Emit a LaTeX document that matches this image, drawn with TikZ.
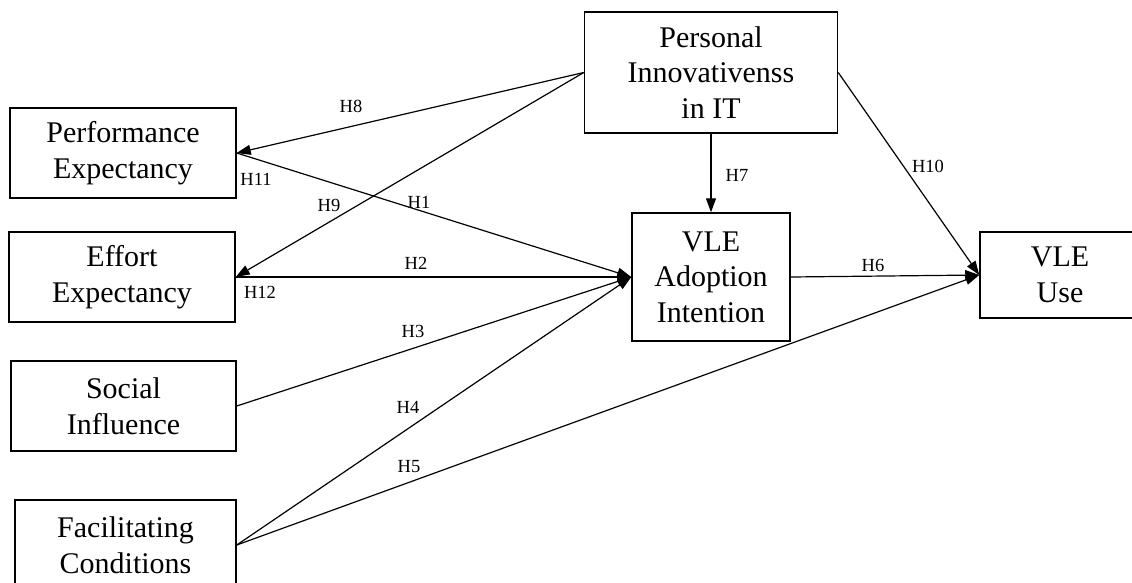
\documentclass[tikz,border=0pt]{standalone}
\usepackage{fontspec}
\setmainfont{Liberation Serif}
\usepackage{tikz}
\usetikzlibrary{arrows.meta,positioning}
\definecolor{inkBlack}{RGB}{0, 0, 0}

\begin{document}
\begin{tikzpicture}[x=1pt, y=-1pt,
    construct/.style={draw=inkBlack, line width=1.5pt, fill=white, align=center, inner sep=0pt,
        font=\fontsize{30pt}{35.5pt}\selectfont},
    hypo/.style={font=\fontsize{18.5pt}{20pt}\selectfont, inner sep=0pt},
    path/.style={draw=inkBlack, line width=1.2pt, -{Triangle[length=14pt, width=10pt]}}]
    \useasboundingbox (0,0) rectangle (1132,582);
    \clip (0,0) rectangle (1132,582);

    \node[construct, minimum width=226pt, minimum height=90pt] (perf) at (123,153) {Performance\\Expectancy};
    \node[construct, minimum width=226pt, minimum height=90pt] (effort) at (122,277) {Effort\\Expectancy};
    \node[construct, minimum width=225pt, minimum height=90pt] (social) at (123.5,406) {Social\\Influence};
    \node[construct, minimum width=221pt, minimum height=90pt] (facil) at (125.5,545) {Facilitating\\Conditions};
    \node[construct, minimum width=253pt, minimum height=121pt] (innov) at (711,72.5) {Personal\\Innovativenss\\in IT};
    \node[construct, minimum width=158pt, minimum height=128pt] (intent) at (711,277) {VLE\\Adoption\\Intention};
    \node[construct, minimum width=160pt, minimum height=86pt] (use) at (1060,275) {VLE\\Use};

    \draw[path] (innov.west) -- (perf.east);
    \draw[path] (innov.west) -- (effort.east);
    \draw[path] (perf.east) -- (intent.west);
    \draw[path] (effort.east) -- (intent.west);
    \draw[path] (social.east) -- (intent.west);
    \draw[path] (facil.east) -- (intent.west);
    \draw[path] (facil.east) -- (use.west);
    \draw[path] (intent.east) -- (use.west);
    \draw[path] (innov.south) -- (intent.north);
    \draw[path] (innov.east) -- (use.west);

    \node[hypo] (h1) at (419,202) {H1};
    \node[hypo] (h2) at (416,263) {H2};
    \node[hypo] (h3) at (413,331) {H3};
    \node[hypo] (h4) at (408,407) {H4};
    \node[hypo] (h5) at (409,467) {H5};
    \node[hypo] (h6) at (873,265) {H6};
    \node[hypo] (h7) at (737,175) {H7};
    \node[hypo] (h8) at (351,106) {H8};
    \node[hypo] (h9) at (329,205) {H9};
    \node[hypo] (h10) at (928,166) {H10};
    \node[hypo] (h11) at (256,179) {H11};
    \node[hypo] (h12) at (260,292) {H12};
\end{tikzpicture}
\end{document}
